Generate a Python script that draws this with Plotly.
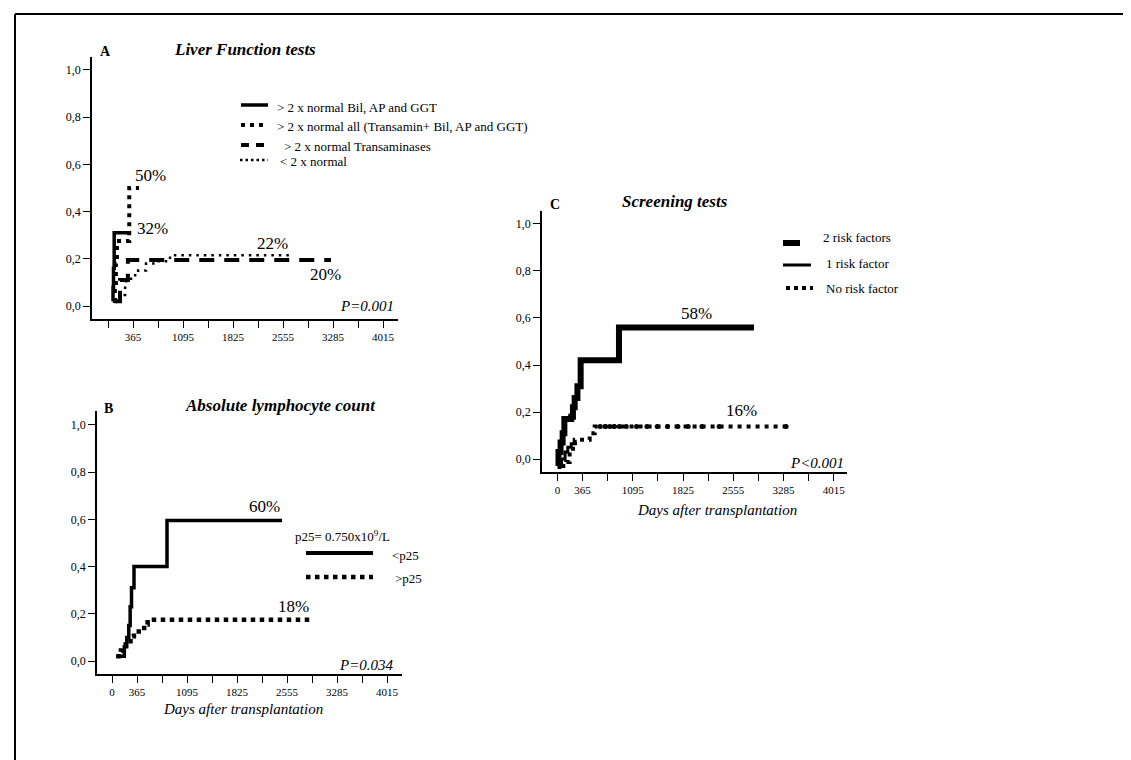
import plotly.graph_objects as go

W, H = 1131, 760
FONT = "Liberation Serif"

# ---------------- data ----------------
# Panel A: Liver function tests (days after transplantation, cumulative incidence)
a_bil_days = [70, 73, 80, 90, 336]
a_bil_vals = [0.02, 0.08, 0.16, 0.31, 0.31]
a_all_days = [90, 100, 115, 130, 310, 453]
a_all_vals = [0.02, 0.08, 0.18, 0.275, 0.50, 0.50]
a_trans_days = [110, 175, 290, 3256]
a_trans_vals = [0.02, 0.11, 0.195, 0.195]
a_norm_days = [100, 175, 250, 336, 440, 555, 690, 905, 2700]
a_norm_vals = [0.02, 0.047, 0.105, 0.13, 0.15, 0.18, 0.19, 0.215, 0.215]

# Panel B: Absolute lymphocyte count
b_low_days = [63, 180, 215, 245, 265, 285, 321, 803, 2482]
b_low_vals = [0.02, 0.06, 0.10, 0.15, 0.23, 0.31, 0.40, 0.595, 0.595]
b_high_days = [63, 130, 200, 270, 320, 470, 520, 2935]
b_high_vals = [0.02, 0.045, 0.07, 0.105, 0.125, 0.155, 0.175, 0.175]

# Panel C: Screening tests
c_two_days = [0, 15, 45, 75, 100, 200, 225, 250, 290, 337, 894, 2857]
c_two_vals = [-0.03, 0.03, 0.07, 0.11, 0.17, 0.18, 0.22, 0.26, 0.31, 0.42, 0.56, 0.56]
c_one_days = [20, 60, 110, 150, 200, 260]
c_one_vals = [-0.03, 0.0, 0.03, 0.05, 0.065, 0.075]
c_none_days = [56, 128, 177, 225, 250, 468, 541, 3324]
c_none_vals = [-0.03, -0.012, 0.03, 0.068, 0.082, 0.11, 0.139, 0.139]
c_censor_days = [620, 700, 760, 830, 900, 1000, 1150, 1300, 1450, 1600, 1750, 1900, 2100, 2350, 3324]
c_censor_vals = [0.139] * len(c_censor_days)

tick_days = [0, 365, 1095, 1825, 2555, 3285, 4015]
tick_text = ["0", "365", "1095", "1825", "2555", "3285", "4015"]
tick_days_a = [365, 1095, 1825, 2555, 3285, 4015]
tick_text_a = ["365", "1095", "1825", "2555", "3285", "4015"]
y_ticks = [0, 0.2, 0.4, 0.6, 0.8, 1.0]
y_text = ["0,0", "0,2", "0,4", "0,6", "0,8", "1,0"]


def px(x):
    return x / W


def py(y):
    return 1 - y / H


fig = go.Figure()


def step(xs, ys, ax, width, dash="solid", color="black"):
    fig.add_trace(go.Scatter(x=xs, y=ys, mode="lines", line_shape="hv",
                             line=dict(color=color, width=width, dash=dash),
                             xaxis=ax[0], yaxis=ax[1], showlegend=False,
                             hoverinfo="skip"))


A = ("x", "y")
B = ("x2", "y2")
C = ("x3", "y3")

step(a_norm_days, a_norm_vals, A, 2.5, "2.5px,5px")
step(a_trans_days, a_trans_vals, A, 4, "15px,10px")
step(a_all_days, a_all_vals, A, 4, "4px,5px")
step(a_bil_days, a_bil_vals, A, 3.5)

step(b_high_days, b_high_vals, B, 4.5, "4.5px,4.5px")
step(b_low_days, b_low_vals, B, 3.5)

step(c_none_days, c_none_vals, C, 4, "4px,5px")
fig.add_trace(go.Scatter(x=c_censor_days, y=c_censor_vals, mode="markers",
                         marker=dict(color="black", size=5, symbol="circle"),
                         xaxis="x3", yaxis="y3", showlegend=False, hoverinfo="skip"))
step(c_one_days, c_one_vals, C, 3)
step(c_two_days, c_two_vals, C, 6)

axis_common = dict(showline=True, linecolor="black", linewidth=1.5, mirror=False,
                   showgrid=False, zeroline=False, ticks="outside", ticklen=7,
                   tickwidth=1.2, tickcolor="black",
                   tickfont=dict(family=FONT, size=11, color="black"))


def xaxis(dom, rng, anchor, vals, text):
    d = dict(axis_common)
    d.update(domain=[px(dom[0]), px(dom[1])], range=rng, anchor=anchor,
             tickmode="array", tickvals=vals, ticktext=text,
             minor=dict(tick0=0, dtick=365, ticks="outside", ticklen=7,
                        tickwidth=1.2, tickcolor="black", showgrid=False))
    return d


def yaxis(dom, rng, anchor):
    d = dict(axis_common)
    d.update(domain=[py(dom[1]), py(dom[0])], range=rng, anchor=anchor,
             tickmode="array", tickvals=y_ticks, ticktext=y_text,
             tickfont=dict(family=FONT, size=12, color="black"))
    return d


fig.update_layout(
    width=W, height=H, margin=dict(l=0, r=0, t=0, b=0),
    paper_bgcolor="white", plot_bgcolor="white",
    xaxis=xaxis((84, 390), [-234, 4234], "y", tick_days_a, tick_text_a),
    yaxis=yaxis((49, 311), [-0.055, 1.055], "x"),
    xaxis2=xaxis((89, 394), [-219, 4234], "y2", tick_days, tick_text),
    yaxis2=yaxis((403, 666), [-0.055, 1.059], "x2"),
    xaxis3=xaxis((534, 839), [-225, 4209], "y3", tick_days, tick_text),
    yaxis3=yaxis((203, 464), [-0.055, 1.055], "x3"),
)

ann = []


def text(x, y, s, size=13, xanchor="left", ref=("paper", "paper"), italic=False, bold=False):
    if italic:
        s = "<i>" + s + "</i>"
    if bold:
        s = "<b>" + s + "</b>"
    ann.append(dict(x=x, y=y, xref=ref[0], yref=ref[1], text=s, showarrow=False,
                    xanchor=xanchor, yanchor="middle",
                    font=dict(family=FONT, size=size, color="black")))


# titles and panel letters
text(px(237), py(42), "Liver Function tests", 17, "center", italic=True, bold=True)
text(px(90), py(43), "A", 14, "left", bold=True)
text(px(272), py(397), "Absolute lymphocyte count", 17, "center", italic=True, bold=True)
text(px(94), py(400), "B", 14, "left", bold=True)
text(px(667), py(193), "Screening tests", 17, "center", italic=True, bold=True)
text(px(540), py(197), "C", 14, "left", bold=True)

# axis titles
text(px(235), py(701), "Days after transplantation", 15, "center", italic=True)
text(px(709), py(502), "Days after transplantation", 15, "center", italic=True)

# P values
text(px(388), py(298), "P=0.001", 15, "right", italic=True)
text(px(388), py(657), "P=0.034", 15, "right", italic=True)
text(px(838), py(455), "P&lt;0.001", 15, "right", italic=True)

# percentages (data coordinates)
text(627, 0.555, "50%", 17, "center", ref=("x", "y"))
text(650, 0.33, "32%", 17, "center", ref=("x", "y"))
text(2408, 0.265, "22%", 17, "center", ref=("x", "y"))
text(3169, 0.132, "20%", 17, "center", ref=("x", "y"))
text(2220, 0.655, "60%", 17, "center", ref=("x2", "y2"))
text(2657, 0.23, "18%", 17, "center", ref=("x2", "y2"))
text(2015, 0.62, "58%", 17, "center", ref=("x3", "y3"))
text(2670, 0.207, "16%", 17, "center", ref=("x3", "y3"))

# legend A
leg_a = ["&gt; 2 x normal Bil, AP and GGT",
         "&gt; 2 x normal all (Transamin+ Bil, AP and GGT)",
         "&gt; 2 x normal Transaminases",
         "&lt; 2 x normal"]
leg_a_y = [99, 119, 139, 154]
leg_a_x = [267, 267, 274, 270]
for s, yy, xx in zip(leg_a, leg_a_y, leg_a_x):
    text(px(xx), py(yy), s, 13, "left")

# legend B
text(px(285), py(528), "p25= 0.750x10<sup>9</sup>/L", 13, "left")
text(px(382), py(547), "&lt;p25", 13, "left")
text(px(385), py(570), "&gt;p25", 13, "left")

# legend C
text(px(813), py(229), "2 risk factors", 13, "left")
text(px(816), py(255), "1 risk factor", 13, "left")
text(px(816), py(280), "No risk factor", 13, "left")

fig.update_layout(annotations=ann)

shapes = []


def seg(x0, x1, y, width, dash="solid"):
    shapes.append(dict(type="line", xref="paper", yref="paper",
                       x0=px(x0), x1=px(x1), y0=py(y), y1=py(y),
                       line=dict(color="black", width=width, dash=dash)))


# legend samples A
seg(233, 260, 97, 3.5)
seg(233, 260, 117, 4, "4px,5px")
seg(233, 260, 137, 4, "8px,7px")
seg(232, 260, 152, 2.5, "2.5px,3px")
# legend samples B
seg(298, 365, 545, 4)
seg(298, 365, 569, 4.5, "4.5px,4.5px")
# legend samples C
seg(775, 792, 235, 6)
seg(775, 803, 257, 3)
seg(778, 805, 280, 4, "4px,4px")

# outer frame (top and left edges)
shapes.append(dict(type="line", xref="paper", yref="paper", x0=px(7), x1=1.0,
                   y0=py(6), y1=py(6), line=dict(color="black", width=2)))
shapes.append(dict(type="line", xref="paper", yref="paper", x0=px(7), x1=px(7),
                   y0=py(6), y1=0.0, line=dict(color="black", width=2)))

fig.update_layout(shapes=shapes)

fig.write_html("out.html")
